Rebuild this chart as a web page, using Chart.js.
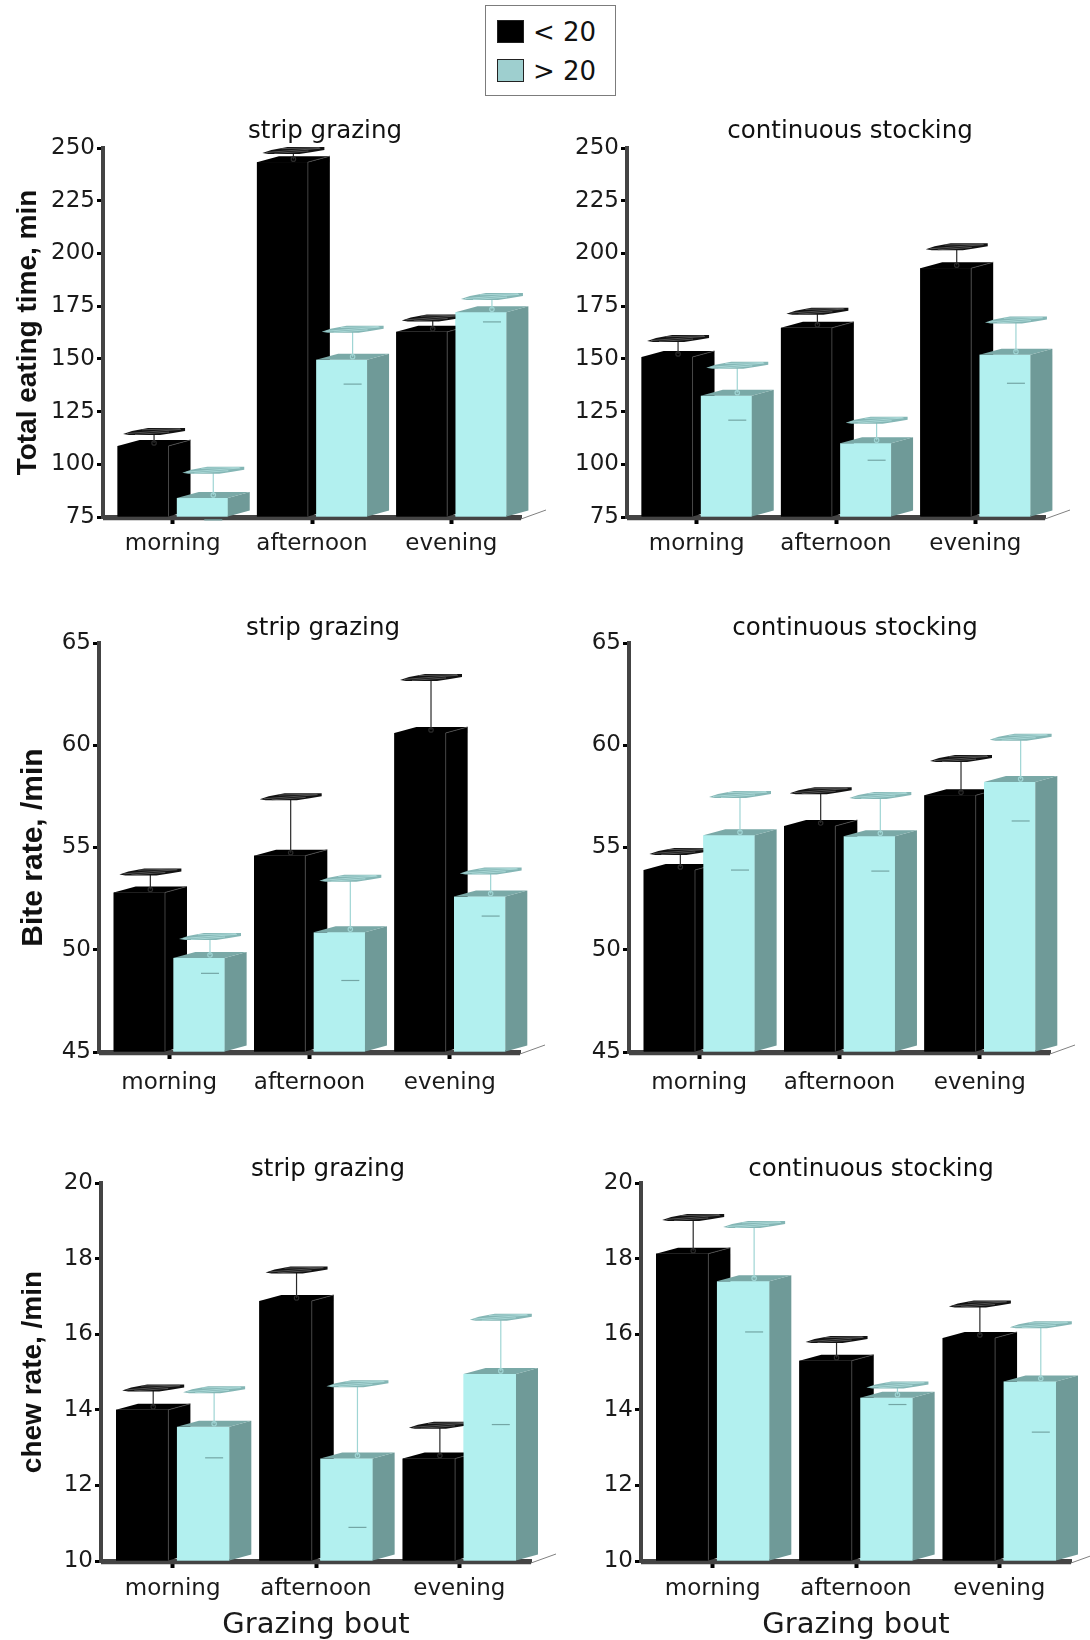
<!DOCTYPE html>
<html>
<head>
<meta charset="utf-8">
<script src="https://cdn.jsdelivr.net/npm/chart.js"></script>
<style>
html,body{margin:0;padding:0;background:#fff;}
body{width:1090px;height:1640px;position:relative;overflow:hidden;font-family:'DejaVu Sans',sans-serif;}
canvas{position:absolute;}
#legend{position:absolute;left:485px;top:5px;width:129px;height:89px;border:1.5px solid #7c7c7c;background:#fff;}
#legend .sw{position:absolute;left:11px;width:25px;height:21px;border:1px solid #222;}
#legend .tx{position:absolute;left:47px;font-family:'DejaVu Sans',sans-serif;font-size:26px;line-height:26px;color:#111;white-space:nowrap;}
</style>
</head>
<body>
<div id="legend"></div>
<script>
// ---------------- data ----------------
const categories = ['morning', 'afternoon', 'evening'];
const seriesNames = ['< 20', '> 20'];
const panelTitles = ['strip grazing', 'continuous stocking'];
const yTitles = ['Total eating time, min', 'Bite rate, /min', 'chew rate, /min'];
const xTitle = 'Grazing bout';

const eatTicks = [75, 100, 125, 150, 175, 200, 225, 250];
const biteTicks = [45, 50, 55, 60, 65];
const chewTicks = [10, 12, 14, 16, 18, 20];

// total eating time, strip grazing
const eatStripLow = [108.7, 243.3, 162.8];
const eatStripLowErr = [5.4, 4.1, 5.2];
const eatStripHigh = [84.0, 149.6, 172.1];
const eatStripHighErr = [11.8, 13.0, 6.0];
// total eating time, continuous stocking
const eatContLow = [150.9, 164.7, 193.0];
const eatContLowErr = [7.3, 6.5, 8.7];
const eatContHigh = [132.5, 110.0, 152.0];
const eatContHighErr = [13.0, 9.5, 15.0];
// bite rate, strip grazing
const biteStripLow = [52.8, 54.6, 60.6];
const biteStripLowErr = [0.86, 2.73, 2.57];
const biteStripHigh = [49.6, 50.85, 52.6];
const biteStripHighErr = [0.9, 2.5, 1.1];
// bite rate, continuous stocking
const biteContLow = [53.9, 56.05, 57.55];
const biteContLowErr = [0.76, 1.58, 1.65];
const biteContHigh = [55.6, 55.55, 58.2];
const biteContHighErr = [1.85, 1.85, 2.05];
// chew rate, strip grazing
const chewStripLow = [14.0, 16.88, 12.71];
const chewStripLowErr = [0.5, 0.74, 0.8];
const chewStripHigh = [13.55, 12.71, 14.95];
const chewStripHighErr = [0.9, 1.9, 1.42];
// chew rate, continuous stocking
const chewContLow = [18.13, 15.3, 15.9];
const chewContLowErr = [0.88, 0.48, 0.82];
const chewContHigh = [17.4, 14.32, 14.75];
const chewContHighErr = [1.42, 0.26, 1.42];

// ---------------- layout / style ----------------
const DX = 22, DY = 6;
const STYLE = [
  {front:'#000000', side:'#000000', top:'#000000', edge:'#505050', stem:'#2a2a2a', capFill:'#121212', capLine:'#6c6c6c', low:null},
  {front:'#b2f0ef', side:'#6f9a98', top:'#7aa9a7', edge:null, stem:'#9fd5d4', capFill:'#84b6b5', capLine:'#b8e4e3', low:'#74a6a5'}
];
const legendColors = ['#000000', '#9ecfcf'];

const panels = [
  {box:[0,100,570,480],   area:[103,148,521,517],  yw:92, xh:50, xpad:6,  title:panelTitles[0], tpos:[325,138],  yTitle:yTitles[0], ySize:28, xTitle:null, ticks:eatTicks,  low:eatStripLow,  lowErr:eatStripLowErr,  high:eatStripHigh,  highErr:eatStripHighErr},
  {box:[545,100,545,480], area:[627,148,1045,517], yw:70, xh:50, xpad:6,  title:panelTitles[1], tpos:[850,138],  yTitle:null,       ySize:28, xTitle:null, ticks:eatTicks,  low:eatContLow,   lowErr:eatContLowErr,   high:eatContHigh,   highErr:eatContHighErr},
  {box:[0,580,570,540],   area:[99,643,520,1052],  yw:83, xh:52, xpad:10, title:panelTitles[0], tpos:[323,635],  yTitle:yTitles[1], ySize:30, xTitle:null, ticks:biteTicks, low:biteStripLow, lowErr:biteStripLowErr, high:biteStripHigh, highErr:biteStripHighErr},
  {box:[545,580,545,540], area:[629,643,1050,1052],yw:70, xh:52, xpad:10, title:panelTitles[1], tpos:[855,635],  yTitle:null,       ySize:28, xTitle:null, ticks:biteTicks, low:biteContLow,  lowErr:biteContLowErr,  high:biteContHigh,  highErr:biteContHighErr},
  {box:[0,1120,570,530],  area:[101,1183,531,1561],yw:85, xh:82, xpad:7,  title:panelTitles[0], tpos:[328,1176], yTitle:yTitles[2], ySize:28, xTitle:xTitle, ticks:chewTicks, low:chewStripLow, lowErr:chewStripLowErr, high:chewStripHigh, highErr:chewStripHighErr},
  {box:[545,1120,545,530],area:[641,1183,1071,1561],yw:70,xh:82, xpad:7,  title:panelTitles[1], tpos:[871,1176], yTitle:null,       ySize:28, xTitle:xTitle, ticks:chewTicks, low:chewContLow,  lowErr:chewContLowErr,  high:chewContHigh,  highErr:chewContHighErr}
];

// ---------------- legend ----------------
(function(){
  const lg = document.getElementById('legend');
  const rows = [{sw:13.5, tx:12.5}, {sw:52.5, tx:51.5}];
  seriesNames.forEach((name, i) => {
    const sw = document.createElement('div');
    sw.className = 'sw';
    sw.style.top = rows[i].sw + 'px';
    sw.style.background = legendColors[i];
    lg.appendChild(sw);
    const tx = document.createElement('div');
    tx.className = 'tx';
    tx.style.top = rows[i].tx + 'px';
    tx.textContent = name;
    lg.appendChild(tx);
  });
})();

// ---------------- plugins ----------------
function poly(ctx, pts) {
  ctx.beginPath();
  ctx.moveTo(pts[0][0], pts[0][1]);
  for (let k = 1; k < pts.length; k++) ctx.lineTo(pts[k][0], pts[k][1]);
  ctx.closePath();
}
function drawCap(ctx, cx, cy, st) {
  ctx.fillStyle = st.capFill;
  poly(ctx, [[cx-31,cy+2.5],[cx-22,cy-0.5],[cx-6,cy-3.5],[cx+31,cy-3.5],[cx+31,cy-0.5],[cx+19,cy+1.5],[cx+6,cy+3.5],[cx-25,cy+3.5]]);
  ctx.fill();
  ctx.strokeStyle = st.capLine;
  ctx.lineWidth = 0.7;
  ctx.beginPath();
  ctx.moveTo(cx-27, cy+2); ctx.lineTo(cx+27, cy-2.2);
  ctx.moveTo(cx-19, cy+3); ctx.lineTo(cx+15, cy+0.5);
  ctx.moveTo(cx-12, cy-1.8); ctx.lineTo(cx+26, cy-2.8);
  ctx.stroke();
}

const bar3d = {
  id: 'bar3d',
  afterDatasetsDraw(chart) {
    const ctx = chart.ctx;
    const ys = chart.scales.y;
    const ca = chart.chartArea;
    ctx.save();
    // depth line continuing the floor
    ctx.strokeStyle = '#808080';
    ctx.lineWidth = 1;
    ctx.beginPath();
    ctx.moveTo(ca.right, ca.bottom + 2);
    ctx.lineTo(ca.right + 25, ca.bottom - 7);
    ctx.stroke();
    // floor axis line under the boxes
    ctx.strokeStyle = '#444';
    ctx.lineWidth = 3.5;
    ctx.beginPath();
    ctx.moveTo(ca.left, ca.bottom + 1.5);
    ctx.lineTo(ca.right, ca.bottom + 1.5);
    ctx.stroke();

    chart.data.datasets.forEach((ds, di) => {
      const meta = chart.getDatasetMeta(di);
      const st = STYLE[di];
      meta.data.forEach((el, i) => {
        const p = el.getProps(['x', 'y', 'base', 'width'], true);
        const l = p.x - p.width / 2, r = p.x + p.width / 2, t = p.y;
        const b = Math.min(p.base, ca.bottom);
        ctx.fillStyle = st.front;
        ctx.fillRect(l, t, p.width, b - t);
        ctx.fillStyle = st.side;
        poly(ctx, [[r, b], [r, t], [r + DX, t - DY], [r + DX, b - DY]]);
        ctx.fill();
        ctx.fillStyle = st.top;
        poly(ctx, [[l, t], [l + DX, t - DY], [r + DX, t - DY], [r, t]]);
        ctx.fill();
        if (st.edge) {
          ctx.strokeStyle = st.edge;
          ctx.lineWidth = 0.8;
          ctx.beginPath();
          ctx.moveTo(r, b); ctx.lineTo(r, t); ctx.lineTo(r + DX, t - DY);
          ctx.stroke();
        }
        // error bar in the middle depth plane
        const v = ds.data[i], e = ds.errors[i];
        const cx = p.x + DX / 2;
        const y0 = t - DY / 2;
        const yHi = ys.getPixelForValue(v + e) - DY / 2;
        const yLo = ys.getPixelForValue(v - e) - DY / 2;
        if (st.low) {
          ctx.strokeStyle = st.low;
          ctx.lineWidth = 1.2;
          ctx.beginPath();
          ctx.moveTo(cx - 9, yLo); ctx.lineTo(cx + 9, yLo);
          ctx.stroke();
        }
        ctx.strokeStyle = st.stem;
        ctx.lineWidth = 1.2;
        ctx.beginPath();
        ctx.moveTo(cx, y0); ctx.lineTo(cx, yHi);
        ctx.stroke();
        ctx.beginPath();
        ctx.arc(cx, y0, 2.2, 0, Math.PI * 2);
        ctx.stroke();
        drawCap(ctx, cx, yHi, st);
      });
    });
    ctx.restore();
  }
};

const panelTitle = {
  id: 'panelTitle',
  afterDraw(chart, args, opts) {
    const ctx = chart.ctx;
    ctx.save();
    ctx.font = '24.5px "DejaVu Sans"';
    ctx.fillStyle = '#111';
    ctx.textAlign = 'center';
    ctx.textBaseline = 'alphabetic';
    ctx.fillText(opts.text, opts.x, opts.y);
    ctx.restore();
  }
};

// ---------------- charts ----------------
panels.forEach((pn) => {
  const [x0, y0, w, h] = pn.box;
  const [L, T, R, B] = pn.area;
  const cv = document.createElement('canvas');
  cv.width = w; cv.height = h;
  cv.style.left = x0 + 'px'; cv.style.top = y0 + 'px';
  cv.style.width = w + 'px'; cv.style.height = h + 'px';
  document.body.appendChild(cv);
  const tk = pn.ticks;
  new Chart(cv.getContext('2d'), {
    type: 'bar',
    data: {
      labels: categories,
      datasets: [
        {label: seriesNames[0], data: pn.low, errors: pn.lowErr, base: tk[0], backgroundColor: STYLE[0].front, borderWidth: 0, categoryPercentage: 0.85, barPercentage: 0.86},
        {label: seriesNames[1], data: pn.high, errors: pn.highErr, base: tk[0], backgroundColor: STYLE[1].front, borderWidth: 0, categoryPercentage: 0.85, barPercentage: 0.86}
      ]
    },
    options: {
      responsive: false,
      maintainAspectRatio: false,
      animation: false,
      devicePixelRatio: 1,
      events: [],
      layout: {padding: {left: L - x0 - pn.yw, right: x0 + w - R, top: T - y0, bottom: y0 + h - B - pn.xh}},
      scales: {
        x: {
          afterFit: (s) => { s.height = pn.xh; },
          border: {display: true, width: 4, color: '#444'},
          grid: {display: true, offset: false, drawOnChartArea: false, drawTicks: true, tickLength: 7, tickWidth: 4, tickColor: '#000'},
          ticks: {color: '#1a1a1a', font: {family: 'DejaVu Sans', size: 23}, padding: pn.xpad, autoSkip: false, maxRotation: 0},
          title: pn.xTitle ? {display: true, text: pn.xTitle, color: '#1a1a1a', font: {family: 'DejaVu Sans', size: 29}, padding: 0} : {display: false}
        },
        y: {
          min: tk[0],
          max: tk[tk.length - 1],
          beginAtZero: false,
          afterBuildTicks: (s) => { s.ticks = tk.map(v => ({value: v})); },
          afterFit: (s) => { s.width = pn.yw; },
          border: {display: true, width: 4, color: '#444'},
          grid: {display: true, drawOnChartArea: false, drawTicks: true, tickLength: 6, tickWidth: 3, tickColor: '#000'},
          ticks: {color: '#1a1a1a', font: {family: 'DejaVu Sans', size: 23}, padding: 2},
          title: pn.yTitle ? {display: true, text: pn.yTitle, color: '#111', font: {family: 'Liberation Sans', weight: 'bold', size: pn.ySize}, padding: 0} : {display: false}
        }
      },
      plugins: {
        legend: {display: false},
        tooltip: {enabled: false},
        panelTitle: {text: pn.title, x: pn.tpos[0] - x0, y: pn.tpos[1] - y0}
      }
    },
    plugins: [bar3d, panelTitle]
  });
});
</script>
</body>
</html>
